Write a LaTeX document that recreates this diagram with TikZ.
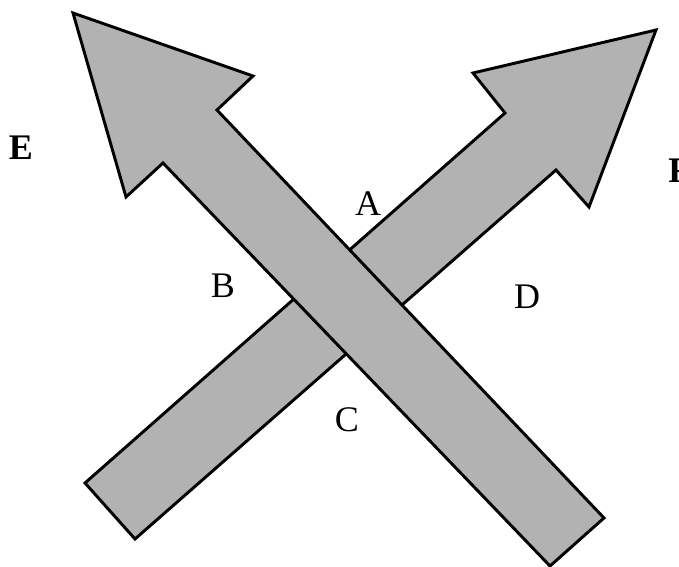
\documentclass[tikz,border=0pt]{standalone}
\usepackage{fontspec}
\setmainfont{Liberation Serif}
\usetikzlibrary{positioning}
\tikzset{
 cross arrow/.style={draw=black,line width=2.2pt,fill=black!30,line join=miter},
 cross label/.style={inner sep=0pt,font=\fontsize{27}{30}\selectfont},
 side label/.style={cross label,font=\fontsize{27}{30}\selectfont\bfseries}
}

\begin{document}
\begin{tikzpicture}[x=0.75pt,y=-0.75pt]
\useasboundingbox (0,0) rectangle (679,567);
% arrow pointing up to the right (lies underneath)
\coordinate (rtail1) at (85,483);
\coordinate (rtail2) at (135,539);
\coordinate (rtip) at (656,30);
\draw[cross arrow] (rtail1)--(505,113)--(473,73)--(rtip)
  --(589,207)--(556,170)--(rtail2)--cycle;
% arrow pointing up to the left (lies on top)
\coordinate (ltail1) at (604,518);
\coordinate (ltail2) at (550,566);
\coordinate (ltip) at (73,13);
\draw[cross arrow] (ltip)--(253,76)--(217,110)--(ltail1)
  --(ltail2)--(163,163)--(126,197)--cycle;
% labels
\node[cross label] (a) at (368,204) {A};
\node[cross label] (b) at (223,286) {B};
\node[cross label] (c) at (347,420) {C};
\node[cross label] (d) at (527,297) {D};
\node[side label] (e) at (21,148) {E};
\node[side label,anchor=west] (f) at (668,171) {F};
\end{tikzpicture}
\end{document}
